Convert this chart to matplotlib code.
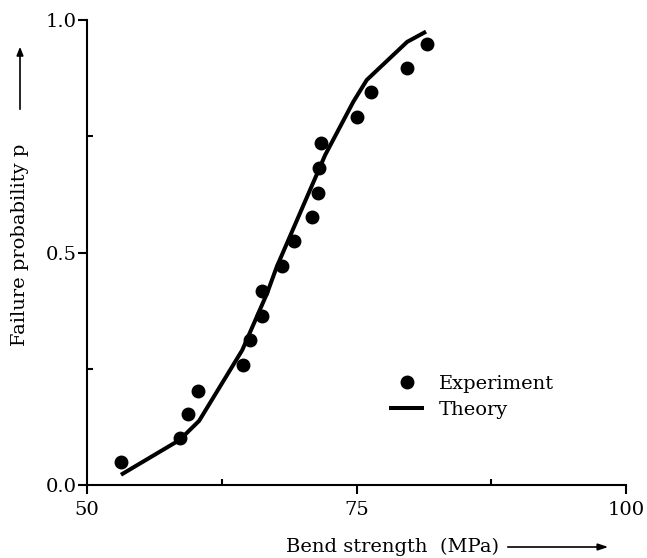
import matplotlib
matplotlib.use("Agg")
import matplotlib.pyplot as plt
from matplotlib.ticker import FixedLocator

plt.rcParams['font.family'] = ['DejaVu Serif']

# Experimental data
exp_strength = [53.15, 58.6, 59.4, 60.3, 64.5, 65.1, 66.2, 66.2, 68.1, 69.2,
                70.9, 71.4, 71.5, 71.7, 75.0, 76.3, 79.7, 81.5]
exp_prob = [0.049, 0.101, 0.153, 0.203, 0.258, 0.312, 0.364, 0.417, 0.470, 0.524,
            0.576, 0.628, 0.682, 0.735, 0.792, 0.845, 0.897, 0.948]

# Theory curve
theory_strength = [53.15, 58.6, 60.4, 64.4, 66.7, 67.6, 72.1, 74.7, 75.95, 79.7, 81.45]
theory_prob = [0.022, 0.097, 0.138, 0.29, 0.412, 0.469, 0.71, 0.824, 0.871, 0.953, 0.975]

x_ticks = [50, 75, 100]
x_labels = ["50", "75", "100"]
y_ticks = [0.0, 0.5, 1.0]
y_labels = ["0.0", "0.5", "1.0"]

FS = 14

fig = plt.figure(figsize=(6.47, 5.58), dpi=100)
ax = fig.add_axes([87/647, 1-485/558, (626-87)/647, (485-20)/558])

ax.plot(theory_strength, theory_prob, color='black', lw=2.9, solid_capstyle='butt',
        label='Theory', zorder=2)
ax.plot(exp_strength, exp_prob, 'o', color='black', ms=9, label='Experiment', zorder=3)

ax.set_xlim(50, 100)
ax.set_ylim(0, 1.0)
ax.spines['top'].set_visible(False)
ax.spines['right'].set_visible(False)
for s in ['left', 'bottom']:
    ax.spines[s].set_linewidth(1.5)

ax.set_xticks(x_ticks)
ax.set_xticklabels(x_labels)
ax.set_yticks(y_ticks)
ax.set_yticklabels(y_labels)
ax.xaxis.set_minor_locator(FixedLocator([62.5, 87.5]))
ax.yaxis.set_minor_locator(FixedLocator([0.25, 0.75]))
ax.tick_params(which='major', direction='out', length=6.5, width=1.5, labelsize=FS, pad=1)
ax.tick_params(axis='x', which='major', pad=5)
ax.tick_params(which='minor', direction='in', length=4, width=1.5)

leg = ax.legend(handles=ax.get_lines()[::-1], loc='upper left',
                bbox_to_anchor=(0.543, 0.258), frameon=False, fontsize=FS,
                handlelength=1.8, handletextpad=0.75, labelspacing=0.4,
                borderpad=0)

# Axis labels with arrows
fig.text(20/647, 1-245/558, 'Failure probability p', rotation=90, fontsize=FS,
         ha='center', va='center')
fig.text(393/647, 1-547/558, 'Bend strength  (MPa)', fontsize=FS, ha='center', va='center')

fig.add_artist(matplotlib.patches.FancyArrowPatch(
    (20/647, 1-112/558), (20/647, 1-44/558), transform=fig.transFigure,
    arrowstyle='-|>,head_length=5,head_width=2', color='black', lw=1.2))
fig.add_artist(matplotlib.patches.FancyArrowPatch(
    (505/647, 1-547/558), (611/647, 1-547/558), transform=fig.transFigure,
    arrowstyle='-|>,head_length=6,head_width=2', color='black', lw=1.2))

fig.savefig('out.png', dpi=100)
